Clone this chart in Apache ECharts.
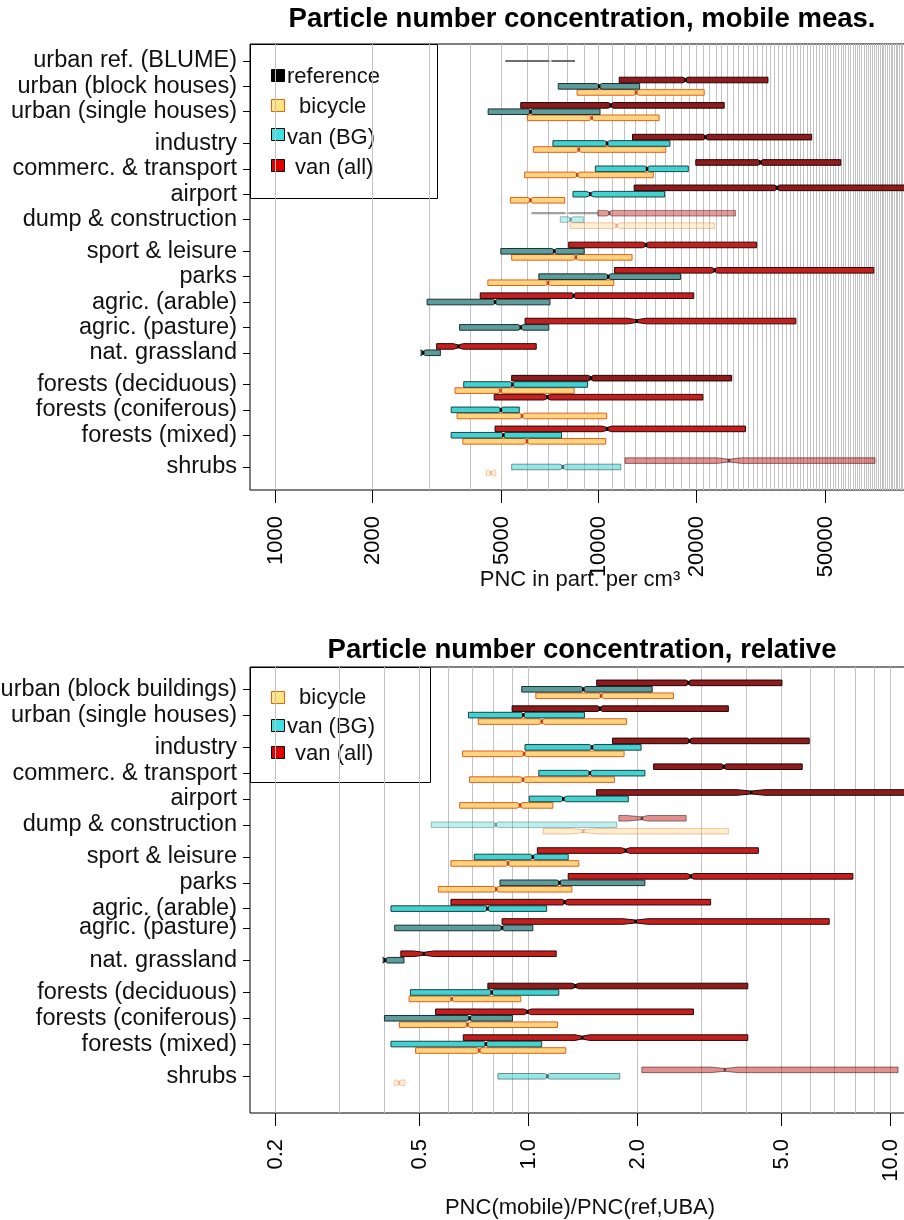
<!DOCTYPE html>
<html>
<head>
<meta charset="utf-8">
<script src="https://cdn.jsdelivr.net/npm/echarts@6/dist/echarts.min.js"></script>
<style>
html,body{margin:0;padding:0;background:#fff;}
#chart{width:904px;height:1220px;}
</style>
</head>
<body>
<div id="chart"></div>
<script>
// ---------------- DATA ----------------
// each box: [lower hinge, median, upper hinge] or [lower, median, upper, notchLow, notchHigh]
const topCategories = ['urban ref. (BLUME)','urban (block houses)','urban (single houses)','industry','commerc. & transport','airport','dump & construction','sport & leisure','parks','agric. (arable)','agric. (pasture)','nat. grassland','forests (deciduous)','forests (coniferous)','forests (mixed)','shrubs'];
const topPositions = [1,2,3,4.25,5.25,6.25,7.25,8.5,9.5,10.5,11.5,12.5,13.75,14.75,15.75,17];
const topReference = [[5150,7100,8460,7000,7200],null,null,null,null,null,[6200,8000,9960],null,null,null,null,null,null,null,null,null];
const topBicycle = [null,[8590,13080,21220],[6030,9530,15400],[6290,8690,16150],[5910,8590,14770],[5340,6160,7860],[8170,11380,22850],[5390,8510,12700],[4550,6980,11150],null,null,null,[3600,4980,8410],[3655,5800,10600],[3808,6010,10530],[4500,4650,4815]];
const topVanBG = [null,[7510,10050,13400],[4560,6160,10110],[7230,10630,16630],[9780,14130,18950],[8340,9430,16010,9150,9700],[7620,8200,8980],[4990,7300,9030],[6540,10720,17920],[2953,4790,7080],[3720,5750,7020],[2830,2870,3245],[3832,5420,9250],[3505,4990,5690],[3505,5080,7690],[5390,7750,11720,7590,7970]];
const topVanAll = [null,[11590,18560,33400],[5750,10920,24470],[12740,21400,45600],[19990,31660,56100],[12890,35640,120000],[9960,10800,26500],[8090,14010,30830,13680,14300],[11210,22850,70930,22390,23330],[4310,8385,19700,8280,8485],[5930,13130,40740,12260,14090],[3160,3690,6420,3560,3820],[5390,9470,25800],[4760,6950,21020,6770,7120],[4790,10630,28460,10250,10990],[12080,25320,71570,23200,27710]];
const topTickValues = [1000,2000,5000,10000,20000,50000];

const botCategories = ['urban (block buildings)','urban (single houses)','industry','commerc. & transport','airport','dump & construction','sport & leisure','parks','agric. (arable)','agric. (pasture)','nat. grassland','forests (deciduous)','forests (coniferous)','forests (mixed)','shrubs'];
const botPositions = [1,2,3.25,4.25,5.25,6.25,7.5,8.5,9.5,10.25,11.5,12.75,13.75,14.75,16];
const botBicycle = [[1.05,1.59,2.52],[0.728,1.09,1.87],[0.659,0.975,1.84],[0.689,0.967,1.73],[0.647,0.95,1.17,0.93,0.967],[1.10,1.42,3.57,1.31,1.56],[0.612,0.88,1.38],[0.565,0.816,1.32],null,null,null,[0.469,0.615,0.954],[0.441,0.68,1.205],[0.489,0.733,1.27],[0.427,0.44,0.457]];
const botVanBG = [[0.96,1.42,2.2],[0.684,0.97,1.43],[0.98,1.50,2.05],[1.07,1.48,2.10],[1.007,1.25,1.89,1.228,1.278],[0.54,0.814,1.756],[0.71,1.03,1.29],[0.836,1.22,2.10],[0.418,0.772,1.125],[0.428,0.847,1.03],[0.398,0.403,0.454],[0.473,0.793,1.215],[0.401,0.689,0.905],[0.418,0.764,1.09,0.752,0.778],[0.825,1.13,1.79]];
const botVanAll = [[1.546,2.77,5.02],[0.903,1.58,3.57],[1.71,2.79,5.97],[2.22,3.47,5.71],[1.545,4.13,13,3.78,4.50],[1.78,2.06,2.73,1.88,2.14],[1.06,1.86,4.32,1.81,1.91],[1.29,2.81,7.88,2.75,2.87],[0.612,1.26,3.19,1.244,1.287],[0.847,1.98,6.78,1.825,2.14],[0.445,0.515,1.195,0.483,0.549],[0.774,1.35,4.04,1.32,1.384],[0.555,0.996,2.86,0.973,1.02],[0.662,1.41,4.04,1.347,1.478],[2.06,3.49,10.5,3.19,3.80]];
const botTickValues = [0.2,0.5,1,2,5,10];

// ---------------- LAYOUT / STYLE ----------------
const FONT = '"Liberation Sans", Arial, sans-serif';
const GRID_L = 250, GRID_R = -6, TOP_Y = 44, BOT_Y = 667, GRID_H = 446;
const TOP_X = {min: 837, max: 91820};
const BOT_X = {min: 0.1706, max: 11.33};
const TOP_Yr = {min: 0.331, max: 17.908};
const BOT_Yr = {min: 0.1357, max: 17.422};

const STY = {
  reference: {fill:'#555555', stroke:null, med:null, h:1.1, pinch:0},
  bicycle:   {fill:'#FFD47E', stroke:'#E2601A', med:'#D4380F', h:2.8, pinch:0.5},
  vanBG:     {fill:'#42D2D2', stroke:'#1A4444', med:'#000000', h:2.8, pinch:0.5, alt:{fill:'#5C9C9C', stroke:'#1A3030'}},
  vanAll:    {fill:'#C41F1F', stroke:'#2C0606', med:'#000000', h:2.8, pinch:0.5, alt:{fill:'#8E1C1C', stroke:'#220404'}}
};
// per-category style tweaks (muted tones and transparency of sparse classes)
const topAlt = {vanBG:[1,2,7,8,9,10,11], vanAll:[1,2,3,4,5,12]};
const botAlt = {vanBG:[0,7,9,10,12], vanAll:[0,1,2,3,4,11]};
const topAlpha = {reference:{0:0.85,6:0.55}, bicycle:{6:0.35,15:0.3}, vanBG:{6:0.35,15:0.55}, vanAll:{6:0.45,15:0.5}};
const botAlpha = {bicycle:{5:0.38,14:0.3}, vanBG:{5:0.35,14:0.55}, vanAll:{5:0.5,14:0.5}};
const topOffsets = {reference:{def:-0.25, 0:0}, bicycle:{def:0.24}, vanBG:{def:0}, vanAll:{def:-0.25, 13:-0.5}};
const botOffsets = {bicycle:{def:0.25}, vanBG:{def:0}, vanAll:{def:-0.25}};

function buildBars(positions, arr, offs) {
  const out = [];
  arr.forEach((d, i) => {
    if (!d) return;
    const off = offs[i] !== undefined ? offs[i] : offs.def;
    out.push({cat:i, y:positions[i] + off, lo:d[0], med:d[1], hi:d[2],
              nlo: d.length > 3 ? d[3] : null, nhi: d.length > 3 ? d[4] : null});
  });
  return out;
}

function boxSeries(name, bars, sty, alt, alpha, axisIdx) {
  return {
    type:'custom', name:name, coordinateSystem:'cartesian2d',
    xAxisIndex:axisIdx, yAxisIndex:axisIdx, clip:true, silent:true, z:3,
    data: bars.map(b => [b.lo, b.y, b.hi]),
    encode:{x:[0,2], y:1},
    renderItem: function(params, api) {
      const b = bars[params.dataIndex];
      const cx = v => api.coord([v, b.y])[0];
      const y = api.coord([b.lo, b.y])[1];
      const xl = cx(b.lo), xh = cx(b.hi), xm = cx(b.med);
      const xnl = b.nlo != null ? cx(b.nlo) : xm - 2.5;
      const xnh = b.nhi != null ? cx(b.nhi) : xm + 2.5;
      const h = sty.h, hn = h * sty.pinch;
      const useAlt = alt && alt.indexOf(b.cat) >= 0;
      const fill = useAlt ? sty.alt.fill : sty.fill;
      const stroke = useAlt ? sty.alt.stroke : sty.stroke;
      const op = (alpha && alpha[b.cat] != null) ? alpha[b.cat] : 1;
      const pts = [[xl,y-h],[xnl,y-h],[xm,y-hn],[xnh,y-h],[xh,y-h],[xh,y+h],[xnh,y+h],[xm,y+hn],[xnl,y+h],[xl,y+h]];
      const children = [{type:'polygon', shape:{points:pts},
        style:{fill:fill, stroke:stroke || null, lineWidth: stroke ? 1 : 0, opacity:op}}];
      if (sty.med) {
        children.push({type:'line', shape:{x1:xm, y1:y-hn-0.3, x2:xm, y2:y+hn+0.3},
          style:{stroke:sty.med, lineWidth:2.5, opacity:op}});
      }
      return {type:'group', children:children};
    }
  };
}

function gridLineSeries(values, axisIdx, yv) {
  return {
    type:'custom', coordinateSystem:'cartesian2d', xAxisIndex:axisIdx, yAxisIndex:axisIdx,
    clip:true, silent:true, z:1,
    data: values.map(v => [v, yv]),
    renderItem: function(params, api) {
      const x = Math.round(api.coord([api.value(0), api.value(1)])[0]) + 0.5;
      const cs = params.coordSys;
      return {type:'line', shape:{x1:x, y1:cs.y, x2:x, y2:cs.y + cs.height},
              style:{stroke:'#c2c2c2', lineWidth:1}};
    }
  };
}

function xTickSeries(values, labels, axisIdx, yv) {
  return {
    type:'custom', coordinateSystem:'cartesian2d', xAxisIndex:axisIdx, yAxisIndex:axisIdx,
    clip:false, silent:true, z:5,
    data: values.map(v => [v, yv]),
    renderItem: function(params, api) {
      const x = Math.round(api.coord([api.value(0), api.value(1)])[0]) + 0.5;
      const cs = params.coordSys;
      const b = cs.y + cs.height;
      return {type:'group', children:[
        {type:'line', shape:{x1:x, y1:b, x2:x, y2:b + 13}, style:{stroke:'#000', lineWidth:1}},
        {type:'text', x:x, y:b + 26, rotation:Math.PI/2,
         style:{text:labels[params.dataIndex], fill:'#000', font:'22px ' + FONT,
                align:'right', verticalAlign:'middle', textAlign:'right', textVerticalAlign:'middle'}}
      ]};
    }
  };
}

// gridline positions (axis decoration)
const topGridVals = [];
for (let k = 1; k <= 91; k++) topGridVals.push(k * 1000);
const botGridVals = [];
for (let k = 2; k <= 9; k++) botGridVals.push(k / 10);
for (let k = 1; k <= 10; k++) botGridVals.push(k);

const topBars = {
  reference: buildBars(topPositions, topReference, topOffsets.reference),
  bicycle: buildBars(topPositions, topBicycle, topOffsets.bicycle),
  vanBG: buildBars(topPositions, topVanBG, topOffsets.vanBG),
  vanAll: buildBars(topPositions, topVanAll, topOffsets.vanAll)
};
const botBars = {
  bicycle: buildBars(botPositions, botBicycle, botOffsets.bicycle),
  vanBG: buildBars(botPositions, botVanBG, botOffsets.vanBG),
  vanAll: buildBars(botPositions, botVanAll, botOffsets.vanAll)
};

function yAxisFor(positions, cats, range, idx) {
  return {
    type:'value', gridIndex:idx, inverse:true, min:range.min, max:range.max,
    axisLine:{show:false}, splitLine:{show:false},
    axisTick:{show:true, length:7, customValues:positions, lineStyle:{color:'#000'}},
    axisLabel:{show:true, customValues:positions, margin:13, fontSize:23.5, fontFamily:FONT, color:'#111',
      padding:[6,0,0,0],
      formatter: function(v) {
        for (let i = 0; i < positions.length; i++) if (Math.abs(positions[i] - v) < 1e-6) return cats[i];
        return '';
      }}
  };
}

function xAxisFor(range, idx, name, gap) {
  return {
    type:'log', logBase:10, gridIndex:idx, min:range.min, max:range.max,
    axisLine:{show:false}, axisTick:{show:false}, axisLabel:{show:false}, splitLine:{show:false},
    name:name, nameLocation:'middle', nameGap:gap,
    nameTextStyle:{fontSize:22, fontFamily:FONT, color:'#111'}
  };
}

function legendGroup(x, y, w, h, items) {
  const children = [{type:'rect', shape:{x:x + 0.5, y:y + 0.5, width:w, height:h},
    style:{fill:'#fff', stroke:'#000', lineWidth:1}}];
  items.forEach(it => {
    children.push({type:'rect', shape:{x:271.5, y:it.sy + 0.5, width:13, height:12},
      style:{fill:it.fill, stroke:it.stroke, lineWidth:1}});
    children.push({type:'text', x:it.tx, y:it.ty,
      style:{text:it.text, font:'22px ' + FONT, fill:'#111', textVerticalAlign:'middle', verticalAlign:'middle'}});
  });
  return {type:'group', z:100, children:children};
}

const chart = echarts.init(document.getElementById('chart'), null, {renderer:'canvas'});
const gridBase = {left:GRID_L, right:GRID_R, height:GRID_H, show:true, borderColor:'#000', borderWidth:1,
  backgroundColor:'transparent', containLabel:false, outerBoundsMode:'none'};
const option = {
  animation:false,
  backgroundColor:'#ffffff',
  grid:[
    Object.assign({top:TOP_Y}, gridBase),
    Object.assign({top:BOT_Y}, gridBase)
  ],
  xAxis:[
    xAxisFor(TOP_X, 0, 'PNC in part. per cm³', 79),
    xAxisFor(BOT_X, 1, 'PNC(mobile)/PNC(ref,UBA)', 84)
  ],
  yAxis:[
    yAxisFor(topPositions, topCategories, TOP_Yr, 0),
    yAxisFor(botPositions, botCategories, BOT_Yr, 1)
  ],
  series:[
    gridLineSeries(topGridVals, 0, 1),
    gridLineSeries(botGridVals, 1, 1),
    xTickSeries(topTickValues, topTickValues.map(v => String(v)), 0, 1),
    xTickSeries(botTickValues, botTickValues.map(v => v.toFixed(1)), 1, 1),
    boxSeries('reference', topBars.reference, STY.reference, null, topAlpha.reference, 0),
    boxSeries('bicycle', topBars.bicycle, STY.bicycle, null, topAlpha.bicycle, 0),
    boxSeries('van (BG)', topBars.vanBG, STY.vanBG, topAlt.vanBG, topAlpha.vanBG, 0),
    boxSeries('van (all)', topBars.vanAll, STY.vanAll, topAlt.vanAll, topAlpha.vanAll, 0),
    boxSeries('bicycle', botBars.bicycle, STY.bicycle, null, botAlpha.bicycle, 1),
    boxSeries('van (BG)', botBars.vanBG, STY.vanBG, botAlt.vanBG, botAlpha.vanBG, 1),
    boxSeries('van (all)', botBars.vanAll, STY.vanAll, botAlt.vanAll, botAlpha.vanAll, 1)
  ],
  graphic:[
    {type:'text', x:582, y:19, z:100, style:{text:'Particle number concentration, mobile meas.', font:'bold 27.5px ' + FONT, fill:'#000', textAlign:'center', textVerticalAlign:'middle', align:'center', verticalAlign:'middle'}},
    {type:'text', x:582, y:650, z:100, style:{text:'Particle number concentration, relative', font:'bold 27.5px ' + FONT, fill:'#000', textAlign:'center', textVerticalAlign:'middle', align:'center', verticalAlign:'middle'}},
    legendGroup(250, 44, 187, 154, [
      {text:'reference', fill:'#000', stroke:'#000', sy:69, tx:287, ty:77},
      {text:' bicycle', fill:'#FFE680', stroke:'#E2601A', sy:99, tx:293, ty:107},
      {text:'van (BG)', fill:'#40E0E0', stroke:'#000', sy:128, tx:287, ty:138},
      {text:' van (all)', fill:'#E00000', stroke:'#000', sy:159, tx:289, ty:168}
    ]),
    legendGroup(250, 667, 180, 115, [
      {text:' bicycle', fill:'#FFE680', stroke:'#E2601A', sy:691, tx:293, ty:698},
      {text:'van (BG)', fill:'#40E0E0', stroke:'#000', sy:719, tx:287, ty:727},
      {text:' van (all)', fill:'#E00000', stroke:'#000', sy:746, tx:289, ty:754}
    ])
  ]
};
chart.setOption(option);
</script>
</body>
</html>
